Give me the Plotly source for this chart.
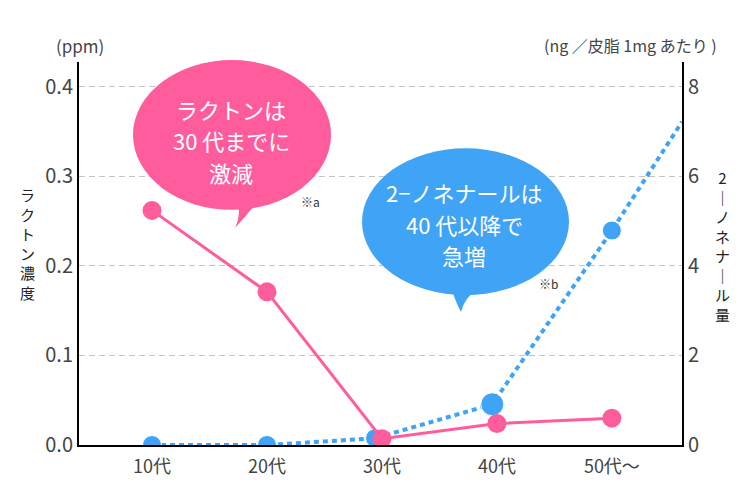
import plotly.graph_objects as go

# data
ages = ["10代", "20代", "30代", "40代", "50代〜"]
age_pos = [0, 1, 2, 3, 4]
lactone_ppm = [0.262, 0.171, 0.007, 0.024, 0.030]
nonenal_pos = [0, 1, 1.94, 2.96, 4]
nonenal_ng = [0.0, 0.0, 0.15, 0.91, 4.79]
nonenal_trend_pos = [4, 4.61]
nonenal_trend_ng = [4.79, 7.22]
left_ticks = [0.0, 0.1, 0.2, 0.3, 0.4]
right_ticks = [0, 2, 4, 6, 8]

PINK, BLUE = "#ff5c9d", "#3fa3f6"
GREY = "#444444"
FONT = "Noto Sans CJK JP, Noto Sans, sans-serif"

# plot box in page pixels; the page body adds an 8px margin around the figure
OFF = 8
W, H = 750 - OFF, 490 - OFF
L, R, T, B = 79, 682, 62, 448


def px(x):
    return (x - L) / (R - L)


def py(y):
    return (B - y) / (B - T)


fig = go.Figure()
# blue series on the right axis (drawn below the pink one)
fig.add_trace(go.Scatter(x=nonenal_pos + nonenal_trend_pos[1:], y=nonenal_ng + nonenal_trend_ng[1:],
                         mode="lines", line=dict(color=BLUE, width=4, dash="5px,4px"),
                         yaxis="y", showlegend=False, hoverinfo="skip"))
fig.add_trace(go.Scatter(x=nonenal_pos, y=nonenal_ng, mode="markers",
                         marker=dict(color=BLUE, size=[19, 19, 19, 23, 19], opacity=1),
                         yaxis="y", showlegend=False))
# pink series on the left axis
fig.add_trace(go.Scatter(x=age_pos, y=lactone_ppm, mode="lines+markers",
                         line=dict(color=PINK, width=3), marker=dict(color=PINK, size=19),
                         yaxis="y2", showlegend=False))

shapes = [
    dict(type="circle", xref="paper", yref="paper", x0=px(133), x1=px(331), y0=py(211), y1=py(60),
         fillcolor=PINK, line=dict(width=0), layer="above"),
    dict(type="path", xref="paper", yref="paper", layer="above", fillcolor=PINK, line=dict(width=0),
         path="M %f,%f Q %f,%f %f,%f Q %f,%f %f,%f Z" % (
             px(238), py(200), px(241), py(218), px(235), py(229),
             px(246), py(218), px(259), py(200))),
    dict(type="circle", xref="paper", yref="paper", x0=px(362), x1=px(569), y0=py(297), y1=py(149),
         fillcolor=BLUE, line=dict(width=0), layer="above"),
    dict(type="path", xref="paper", yref="paper", layer="above", fillcolor=BLUE, line=dict(width=0),
         path="M %f,%f Q %f,%f %f,%f Q %f,%f %f,%f Z" % (
             px(451), py(288), px(455), py(303), px(461), py(314),
             px(464), py(300), px(478), py(290))),
]

annotations = []
for txt, x, y in [("ラクトンは", 231, 109), ("30 代までに", 231, 141), ("激減", 231, 173),
                  ("2−ノネナールは", 464, 193), ("40 代以降で", 464, 225), ("急増", 464, 257)]:
    annotations.append(dict(text=txt, x=px(x), y=py(y), font=dict(size=22, color="white")))
annotations += [
    dict(text="※a", x=px(310), y=py(203), font=dict(size=12, color="#333333")),
    dict(text="※b", x=px(548), y=py(285), font=dict(size=12, color="#333333")),
    dict(text="(ppm)", x=px(80), y=py(45), font=dict(size=17, color=GREY)),
    dict(text="(ng ／皮脂 1mg あたり )", x=px(630), y=py(45), font=dict(size=16, color=GREY)),
    dict(text="<br>".join("ラクトン濃度"), x=px(27), y=py(245),
         font=dict(size=15, color="#222222")),
    dict(text="<br>".join(["2", "｜", "ノ", "ネ", "ナ", "｜", "ル", "量"]), x=px(722), y=py(247),
         font=dict(size=15, color="#222222")),
]
for a in annotations:
    a.update(xref="paper", yref="paper", showarrow=False, xanchor="center", yanchor="middle")

fig.update_layout(
    width=W, height=H, margin=dict(l=L - OFF, r=W - (R - OFF), t=T - OFF, b=H - (B - OFF)),
    paper_bgcolor="white", plot_bgcolor="white",
    font=dict(family=FONT, color=GREY),
    shapes=shapes, annotations=annotations,
    xaxis=dict(range=[-0.635, 4.61], tickvals=age_pos, ticktext=ages, showgrid=False, zeroline=False,
               showline=True, linecolor="black", linewidth=2, ticks="", ticklabelstandoff=4,
               tickfont=dict(size=18, color=GREY)),
    yaxis=dict(side="right", range=[0, 8.555], tickvals=right_ticks, showgrid=True,
               gridcolor="#c4c4c4", gridwidth=1, griddash="6px,4px", zeroline=False,
               showline=True, linecolor="black", linewidth=2, ticks="",
               tickfont=dict(size=20, color=GREY)),
    yaxis2=dict(overlaying="y", side="left", range=[0, 0.4277], tickvals=left_ticks, tickformat=".1f",
                showgrid=False, zeroline=False, showline=True, linecolor="black", linewidth=2,
                ticks="", tickfont=dict(size=20, color=GREY)),
)

fig.write_html("out.html")
